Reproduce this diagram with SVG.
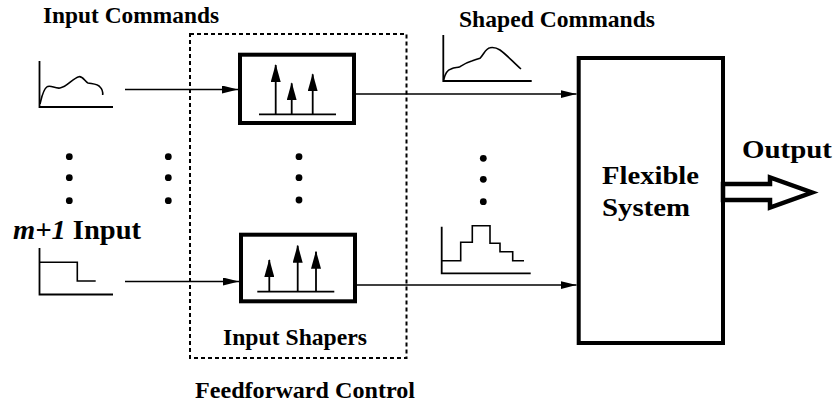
<svg xmlns="http://www.w3.org/2000/svg" width="836" height="407" viewBox="0 0 836 407">
<defs>
<style>
.t{font-family:"Liberation Serif","Times New Roman",serif;font-weight:bold;fill:#000}
.s{font-size:23px}
.b{font-size:26px}
.ln{stroke:#000;stroke-width:1.6;fill:none}
.ax{stroke:#000;stroke-width:1.8;fill:none}
.box{stroke:#000;stroke-width:4;fill:#fff}
.dash{stroke:#000;stroke-width:2;fill:none;stroke-dasharray:4 3}
.dot{fill:#000}
</style>
<marker id="ah" viewBox="0 0 16 8" refX="16" refY="4" markerWidth="16" markerHeight="8" markerUnits="userSpaceOnUse" orient="auto">
<path d="M0,0 L16,4 L0,8 Z" fill="#000"/>
</marker>
<marker id="up" viewBox="0 0 18 10" refX="17" refY="5" markerWidth="18" markerHeight="10" markerUnits="userSpaceOnUse" orient="auto">
<path d="M18,5 L0,0 L0,10 Z" fill="#000"/>
</marker>
</defs>
<rect width="836" height="407" fill="#fff"/>

<g id="feedforward">
<rect class="dash" x="190" y="34" width="216.5" height="324"/>
<text class="t s" x="223" y="345" textLength="144" lengthAdjust="spacingAndGlyphs">Input Shapers</text>
<text class="t s" x="195" y="398" textLength="220" lengthAdjust="spacingAndGlyphs">Feedforward Control</text>
</g>

<g id="input-commands">
<text class="t s" x="43" y="23" textLength="176" lengthAdjust="spacingAndGlyphs">Input Commands</text>
<path class="ax" d="M39.5,61 V107 H113"/>
<path class="ln" d="M40,104 C42,96 43,90 46.7,87 C50,84 55,89 60,88 C67,87 73,78 79,76.7 C83,76 85,82 88,83 C93,84 98,84 100,87 C102,89 103,92 102.7,95"/>
</g>

<g id="input-m1">
<text class="t" font-size="27" x="13" y="239" textLength="128" lengthAdjust="spacingAndGlyphs"><tspan font-style="italic">m+1</tspan> Input</text>
<path class="ax" d="M39.5,248 V294.5 H113"/>
<path class="ln" d="M39.5,262.3 H77.3 V281 H95.7"/>
</g>

<g id="shaper1">
<rect class="box" x="240" y="54.7" width="114" height="68.3"/>
<path class="ax" d="M259,114.3 H336"/>
<path class="ax" d="M275.7,114.3 V65" marker-end="url(#up)"/>
<path class="ax" d="M291.7,114.3 V83.3" marker-end="url(#up)"/>
<path class="ax" d="M312.7,114.3 V74.3" marker-end="url(#up)"/>
</g>

<g id="shaper2">
<rect class="box" x="241" y="234.7" width="114" height="66.6"/>
<path class="ax" d="M257.3,291.7 H334.3"/>
<path class="ax" d="M269.3,291.7 V260" marker-end="url(#up)"/>
<path class="ax" d="M297.7,291.7 V245.7" marker-end="url(#up)"/>
<path class="ax" d="M316,291.7 V251.7" marker-end="url(#up)"/>
</g>

<g id="shaped-commands">
<text class="t s" x="459" y="27" textLength="196" lengthAdjust="spacingAndGlyphs">Shaped Commands</text>
<path class="ax" d="M443.3,35 V81 H531.7"/>
<path class="ln" d="M443.6,80 C445,74 447,70 451,69 C455,67 457,68 460,66.7 C464,64 468,62 471.7,61 C475,60 478,59 480,58.3 C484,54 486,48 490,47.7 C494,47 497,48 500,50 C507,55 514,63 521,69"/>
<path class="ax" d="M441.7,226.7 V273.3 H530.7"/>
<path class="ln" d="M441.7,260.7 H460.7 V242.3 H472.3 V225.7 H490 V243.3 H500 V251.7 H512.7 V260.7 H524"/>
</g>

<g id="flexible-system">
<rect class="box" x="578.7" y="58" width="144.3" height="285"/>
<text class="t b" x="602" y="184" textLength="97" lengthAdjust="spacingAndGlyphs">Flexible</text>
<text class="t b" x="602" y="216" textLength="88" lengthAdjust="spacingAndGlyphs">System</text>
</g>

<g id="output">
<text class="t b" x="742" y="158" textLength="90" lengthAdjust="spacingAndGlyphs">Output</text>
<path d="M723,184 H770 V177.5 L812,192.5 L770,207.5 V200 H723 Z" fill="#fff" stroke="#000" stroke-width="4.5" stroke-linejoin="miter"/>
</g>

<g id="dots">
<circle class="dot" cx="69.3" cy="156.7" r="3.4"/>
<circle class="dot" cx="69.3" cy="177.7" r="3.4"/>
<circle class="dot" cx="69.3" cy="200.7" r="3.4"/>
<circle class="dot" cx="168.3" cy="156.7" r="3.4"/>
<circle class="dot" cx="168.3" cy="177.7" r="3.4"/>
<circle class="dot" cx="168.3" cy="200.7" r="3.4"/>
<circle class="dot" cx="299" cy="156.7" r="3.4"/>
<circle class="dot" cx="299" cy="177.7" r="3.4"/>
<circle class="dot" cx="299" cy="200" r="3.4"/>
<circle class="dot" cx="483.3" cy="158.3" r="3.4"/>
<circle class="dot" cx="483.3" cy="179.3" r="3.4"/>
<circle class="dot" cx="483.3" cy="201.7" r="3.4"/>
</g>

<g id="connectors">
<path class="ln" d="M125,89.5 H238" marker-end="url(#ah)"/>
<path class="ln" d="M125,281.5 H239" marker-end="url(#ah)"/>
<path class="ln" d="M356,94 H576.5" marker-end="url(#ah)"/>
<path class="ln" d="M357,285 H576.5" marker-end="url(#ah)"/>
</g>
</svg>
